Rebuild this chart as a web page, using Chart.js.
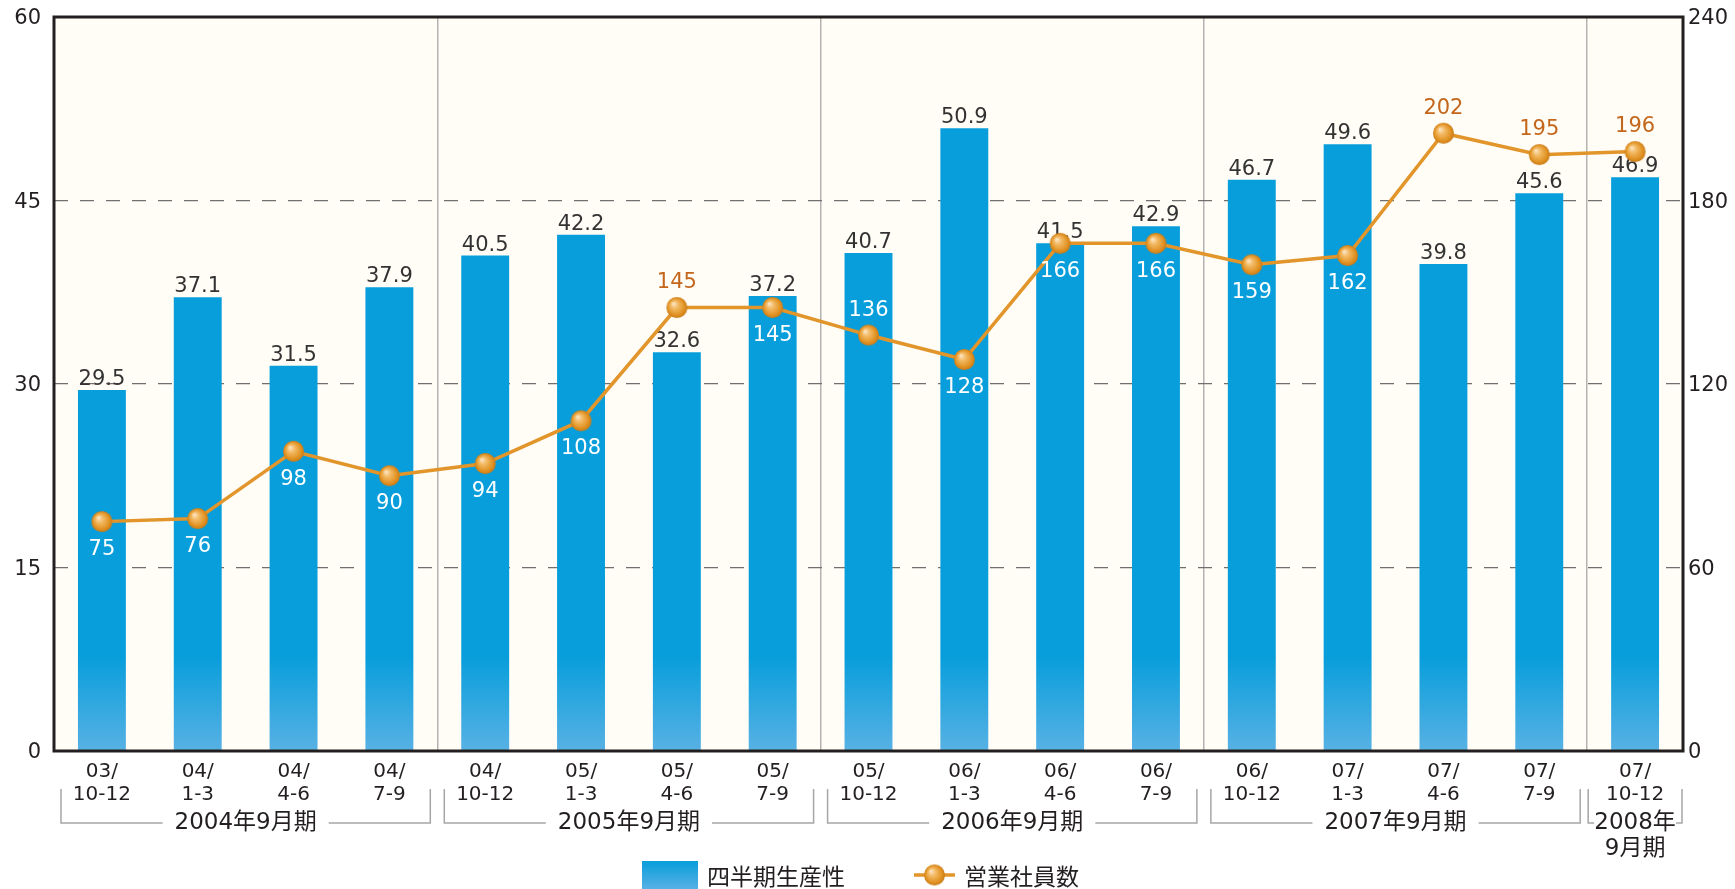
<!DOCTYPE html>
<html lang="ja">
<head>
<meta charset="UTF-8">
<title>四半期生産性と営業社員数</title>
<script src="https://cdn.jsdelivr.net/npm/chart.js"></script>
<style>
  body { margin: 0; background: #fff; overflow: hidden; }
  .chart-wrapper { width: 1735px; height: 889px; }
</style>
</head>
<body>
<div class="chart-wrapper"><canvas id="productivityChart" width="1735" height="889"></canvas></div>
<script>
// quarter labels (two lines each)
const quarters = [
    ['03/', '10-12'], ['04/', '1-3'], ['04/', '4-6'], ['04/', '7-9'],
    ['04/', '10-12'], ['05/', '1-3'], ['05/', '4-6'], ['05/', '7-9'],
    ['05/', '10-12'], ['06/', '1-3'], ['06/', '4-6'], ['06/', '7-9'],
    ['06/', '10-12'], ['07/', '1-3'], ['07/', '4-6'], ['07/', '7-9'],
    ['07/', '10-12']
];
const productivity = [29.5, 37.1, 31.5, 37.9, 40.5, 42.2, 32.6, 37.2, 40.7, 50.9, 41.5, 42.9, 46.7, 49.6, 39.8, 45.6, 46.9];
const salesStaff = [75, 76, 98, 90, 94, 108, 145, 145, 136, 128, 166, 166, 159, 162, 202, 195, 196];
const fiscalYears = ['2004年9月期', '2005年9月期', '2006年9月期', '2007年9月期', ['2008年', '9月期']];
const quartersPerYear = [4, 4, 4, 4, 1];
const seriesNames = ['四半期生産性', '営業社員数'];

const FONT = "'DejaVu Sans', 'Noto Sans CJK JP', sans-serif";
const CJK_FONT = "'Noto Sans CJK JP', 'DejaVu Sans', sans-serif";
const TEXT = '#231f20';
const LINE_COLOR = '#e2952a';
const ORANGE_TEXT = '#c4661c';

// which staff labels go above the marker
const labelAbove = new Set([6, 8, 14, 15, 16]);

// shiny ball used as point style
function makeBall(r) {
    const c = document.createElement('canvas');
    const s = Math.ceil(r * 2 + 2);
    c.width = s; c.height = s;
    const g = c.getContext('2d');
    const cx = s / 2, cy = s / 2;
    const grad = g.createRadialGradient(cx - r * 0.35, cy - r * 0.4, 0, cx, cy, r);
    grad.addColorStop(0, '#fdebd0');
    grad.addColorStop(0.35, '#f3bb66');
    grad.addColorStop(0.8, '#e19222');
    grad.addColorStop(1, '#c97a18');
    g.fillStyle = grad;
    g.beginPath();
    g.arc(cx, cy, r, 0, Math.PI * 2);
    g.fill();
    return c;
}
const ball = makeBall(10.5);

function barGradient(ctx, bottom, depth) {
    const g = ctx.createLinearGradient(0, bottom - depth, 0, bottom);
    g.addColorStop(0, '#079edb');
    g.addColorStop(1, '#58b1e4');
    return g;
}

// fixed axis sizes so the plot frame lands where the original has it
function fixWidth(w) {
    return (s) => { s.width = w; s.paddingTop = 0; s.paddingBottom = 0; };
}

const decorPlugin = {
    id: 'decor',
    beforeDraw(chart) {
        const { ctx, chartArea: a } = chart;
        ctx.save();
        ctx.fillStyle = '#ffffff';
        ctx.fillRect(0, 0, chart.width, chart.height);
        ctx.fillStyle = '#fffdf6';
        ctx.fillRect(a.left, a.top, a.right - a.left, a.bottom - a.top);
        ctx.restore();
    },
    afterDatasetDraw(chart, args) {
        if (args.index !== 0) return;
        const { ctx } = chart;
        ctx.save();
        ctx.font = '21px ' + FONT;
        ctx.fillStyle = '#333333';
        ctx.textAlign = 'center';
        ctx.textBaseline = 'alphabetic';
        args.meta.data.forEach((bar, i) => {
            ctx.fillText(productivity[i].toFixed(1), bar.x, bar.y - 5);
        });
        ctx.restore();
    },
    afterDatasetsDraw(chart) {
        const { ctx, chartArea: a } = chart;
        ctx.save();
        // frame
        ctx.strokeStyle = '#231f20';
        ctx.lineWidth = 3;
        ctx.strokeRect(a.left, a.top, a.right - a.left, a.bottom - a.top);

        // staff labels
        const bars = chart.getDatasetMeta(0).data;
        const pts = chart.getDatasetMeta(1).data;
        ctx.font = '21px ' + FONT;
        ctx.textAlign = 'center';
        ctx.textBaseline = 'middle';
        pts.forEach((p, i) => {
            const y = labelAbove.has(i) ? p.y - 25 : p.y + 28;
            const b = bars[i];
            const inside = y > b.y && Math.abs(p.x - b.x) < b.width / 2;
            ctx.fillStyle = inside ? '#ffffff' : ORANGE_TEXT;
            ctx.fillText(String(salesStaff[i]), p.x, y);
        });
        ctx.restore();
    },
    afterDraw(chart) {
        const { ctx } = chart;
        const xs = chart.scales.x;
        const half = (xs.getPixelForValue(1) - xs.getPixelForValue(0)) / 2;
        ctx.save();

        // fiscal year brackets
        let start = 0;
        const yTop = 789, yLine = 823;
        fiscalYears.forEach((name, gi) => {
            const n = quartersPerYear[gi];
            const inset = n === 1 ? 1 : 7;
            const left = xs.getPixelForValue(start) - half + inset;
            const right = xs.getPixelForValue(start + n - 1) + half - inset;
            const cx = (left + right) / 2;
            const lines = Array.isArray(name) ? name : [name];
            ctx.font = '23px ' + FONT;
            const tw = ctx.measureText(lines[0]).width;
            const leftEnd = Math.max(left + 6, cx - tw / 2 - 12);
            const rightStart = Math.min(right - 6, cx + tw / 2 + 12);

            ctx.strokeStyle = '#a6a6a6';
            ctx.lineWidth = 1.5;
            ctx.beginPath();
            ctx.moveTo(left, yTop); ctx.lineTo(left, yLine); ctx.lineTo(leftEnd, yLine);
            ctx.moveTo(right, yTop); ctx.lineTo(right, yLine); ctx.lineTo(rightStart, yLine);
            ctx.stroke();

            ctx.fillStyle = TEXT;
            ctx.textAlign = 'center';
            ctx.textBaseline = 'middle';
            lines.forEach((t, li) => ctx.fillText(t, cx, yLine + li * 26));
            start += n;
        });

        // legend
        const ly = 876;
        ctx.fillStyle = barGradient(ctx, 889, 28);
        ctx.fillRect(642, 861, 56, 28);
        ctx.font = '23px ' + CJK_FONT;
        ctx.fillStyle = TEXT;
        ctx.textAlign = 'left';
        ctx.textBaseline = 'middle';
        ctx.fillText(seriesNames[0], 707, ly);

        ctx.strokeStyle = LINE_COLOR;
        ctx.lineWidth = 3.5;
        ctx.beginPath();
        ctx.moveTo(914, ly - 1); ctx.lineTo(955, ly - 1);
        ctx.stroke();
        ctx.drawImage(ball, 934.5 - ball.width / 2, ly - 1 - ball.height / 2);
        ctx.fillStyle = TEXT;
        ctx.fillText(seriesNames[1], 964, ly);
        ctx.restore();
    }
};

new Chart(document.getElementById('productivityChart'), {
    type: 'bar',
    data: {
        labels: quarters,
        datasets: [
            {
                type: 'bar',
                label: seriesNames[0],
                data: productivity,
                yAxisID: 'y',
                order: 1,
                barPercentage: 0.5,
                categoryPercentage: 1.0,
                backgroundColor: (c) => {
                    const a = c.chart.chartArea;
                    if (!a) return '#079edb';
                    return barGradient(c.chart.ctx, a.bottom, 95);
                },
                borderWidth: 0
            },
            {
                type: 'line',
                label: seriesNames[1],
                data: salesStaff,
                yAxisID: 'y1',
                order: 0,
                borderColor: LINE_COLOR,
                borderWidth: 3.5,
                pointStyle: ball,
                pointRadius: 11,
                pointHoverRadius: 11,
                tension: 0
            }
        ]
    },
    options: {
        responsive: false,
        animation: false,
        layout: { padding: { top: 17, left: 0, right: 0, bottom: 0 } },
        plugins: {
            legend: { display: false },
            tooltip: { enabled: false }
        },
        scales: {
            x: {
                offset: true,
                afterFit: (s) => { s.height = 138; },
                border: { display: false },
                grid: {
                    offset: true,
                    drawTicks: false,
                    lineWidth: 1.5,
                    color: (c) => (c.index > 0 && c.index < quarters.length && c.index % 4 === 0) ? '#b3b3b3' : 'rgba(0,0,0,0)'
                },
                ticks: {
                    color: TEXT,
                    font: { family: FONT, size: 20, lineHeight: 1.15 },
                    padding: 9,
                    maxRotation: 0,
                    autoSkip: false
                }
            },
            y: {
                position: 'left',
                min: 0,
                max: 60,
                afterFit: fixWidth(54),
                border: { display: false, dash: [14, 12] },
                grid: {
                    drawTicks: false,
                    lineWidth: 1.3,
                    color: (c) => (c.tick && c.tick.value > 0 && c.tick.value < 60) ? '#707070' : 'rgba(0,0,0,0)'
                },
                ticks: {
                    stepSize: 15,
                    color: TEXT,
                    padding: 13,
                    labelOffset: 2,
                    font: { family: FONT, size: 21 }
                }
            },
            y1: {
                position: 'right',
                min: 0,
                max: 240,
                afterFit: fixWidth(52),
                border: { display: false },
                grid: { display: false, drawTicks: false },
                ticks: {
                    stepSize: 60,
                    color: TEXT,
                    padding: 5,
                    labelOffset: 2,
                    font: { family: FONT, size: 21 }
                }
            }
        }
    },
    plugins: [decorPlugin]
});
</script>
</body>
</html>
